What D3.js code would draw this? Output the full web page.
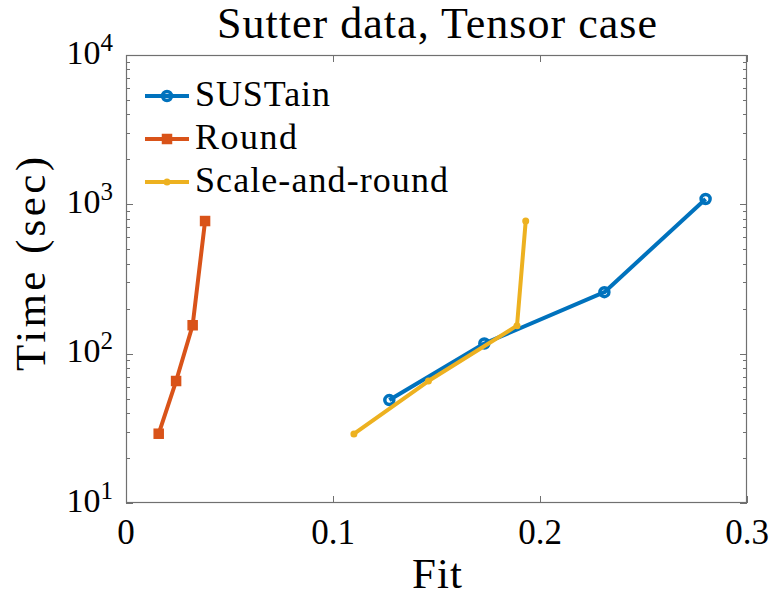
<!DOCTYPE html>
<html>
<head>
<meta charset="utf-8">
<script src="https://cdn.jsdelivr.net/npm/d3@7"></script>
<style>
  html, body { margin: 0; padding: 0; background: #fff; }
  svg { display: block; }
</style>
</head>
<body>
<svg id="chart" width="773" height="596"></svg>
<script>
// ---- data ----
const seriesNames = ["SUSTain", "Round", "Scale-and-round"];
const sustainFit = [0.1272, 0.1731, 0.2311, 0.2800];
const sustainTime = [48.9, 117, 258, 1086];
const roundFit = [0.0158, 0.0242, 0.0322, 0.0382];
const roundTime = [29.1, 65.6, 155, 773];
const scaleRoundFit = [0.1101, 0.1461, 0.1889, 0.1931];
const scaleRoundTime = [29.0, 65.6, 154, 773];
const xTicks = [0, 0.1, 0.2, 0.3];
const yTicks = [10, 100, 1000, 10000];
const colors = ["#0072BD", "#D95319", "#EDB120"];

const FONT = "'Liberation Serif', 'Times New Roman', serif";
const svg = d3.select("#chart");
const L = 126, R = 747, T = 55, B = 503;
const x = d3.scaleLinear().domain([0, 0.3]).range([L, R]);
const y = d3.scaleLog().domain([10, 10000]).range([B, T]);
const axisColor = "#707070";

// minor ticks
const minor = [];
for (let d = 10; d < 10000; d *= 10) for (let k = 2; k <= 9; k++) minor.push(d * k);

const g = svg.append("g");
function hTicks(data, x1, x2) {
  g.append("g").selectAll("line").data(data).join("line")
    .attr("x1", x1).attr("x2", x2)
    .attr("y1", d => Math.round(y(d)) + 0.5).attr("y2", d => Math.round(y(d)) + 0.5)
    .attr("stroke", axisColor);
}
hTicks(minor, L, L + 4);
hTicks(minor, R, R - 4);
hTicks(yTicks, L, L + 7);
hTicks(yTicks, R, R - 7);
function vTicks(y1, y2) {
  g.append("g").selectAll("line").data(xTicks).join("line")
    .attr("x1", d => Math.round(x(d)) + 0.5).attr("x2", d => Math.round(x(d)) + 0.5)
    .attr("y1", y1).attr("y2", y2).attr("stroke", axisColor);
}
vTicks(B, B - 7);
vTicks(T, T + 7);
// box
g.append("rect").attr("x", L + 0.5).attr("y", T + 0.5).attr("width", R - L - 1).attr("height", B - T - 1)
  .attr("fill", "none").attr("stroke", axisColor).attr("stroke-width", 1.2);

// tick labels
svg.append("g").selectAll("text").data(xTicks).join("text")
  .attr("font-family", FONT).attr("fill", "#000")
  .attr("x", d => x(d)).attr("y", 544).attr("text-anchor", "middle")
  .attr("font-size", 35).text(d => d === 0 ? "0" : d3.format(".1f")(d));
const yl = svg.append("g").selectAll("text").data(yTicks).join("text")
  .attr("font-family", FONT).attr("fill", "#000")
  .attr("x", 113).attr("y", d => y(d) + 8.5).attr("text-anchor", "end");
yl.append("tspan").attr("font-size", 34).text("10");
yl.append("tspan").attr("dy", -13).attr("font-size", 25).text(d => Math.round(Math.log10(d)));

// title & axis labels
svg.append("text").attr("font-family", FONT).attr("x", 437).attr("y", 38).attr("text-anchor", "middle")
  .attr("font-size", 44).attr("textLength", 440).attr("lengthAdjust", "spacing")
  .text("Sutter data, Tensor case");
svg.append("text").attr("font-family", FONT).attr("x", 437).attr("y", 588).attr("text-anchor", "middle")
  .attr("font-size", 43).attr("textLength", 50).attr("lengthAdjust", "spacing").text("Fit");
svg.append("text").attr("font-family", FONT).attr("transform", `translate(45,264) rotate(-90)`)
  .attr("text-anchor", "middle").attr("font-size", 43)
  .attr("textLength", 214).attr("lengthAdjust", "spacing").text("Time (sec)");

// data series
const series = [
  { name: seriesNames[0], fit: sustainFit, time: sustainTime, color: colors[0], marker: "circle" },
  { name: seriesNames[1], fit: roundFit, time: roundTime, color: colors[1], marker: "square" },
  { name: seriesNames[2], fit: scaleRoundFit, time: scaleRoundTime, color: colors[2], marker: "star" }
];
const line = d3.line().x(d => x(d[0])).y(d => y(d[1]));

function drawMarker(sel, s, px, py) {
  if (s.marker === "circle") {
    sel.append("circle").attr("cx", px).attr("cy", py).attr("r", 4.5)
      .attr("fill", "none").attr("stroke", s.color).attr("stroke-width", 3.5);
  } else if (s.marker === "square") {
    sel.append("rect").attr("x", px - 4.5).attr("y", py - 4.5).attr("width", 9).attr("height", 9)
      .attr("fill", s.color).attr("stroke", s.color).attr("stroke-width", 1.5);
  } else {
    sel.append("circle").attr("cx", px).attr("cy", py).attr("r", 3.5).attr("fill", s.color);
  }
}

series.forEach(s => {
  const pts = s.fit.map((f, i) => [f, s.time[i]]);
  svg.append("path").datum(pts).attr("d", line).attr("fill", "none")
    .attr("stroke", s.color).attr("stroke-width", 4).attr("stroke-linejoin", "round");
  const mg = svg.append("g");
  pts.forEach(p => drawMarker(mg, s, x(p[0]), y(p[1])));
});

// legend
const legY = [96, 139, 182];
const legW = [135, 102, 253];
series.forEach((s, i) => {
  const lg = svg.append("g");
  lg.append("line").attr("x1", 145).attr("x2", 189).attr("y1", legY[i]).attr("y2", legY[i])
    .attr("stroke", s.color).attr("stroke-width", 4);
  drawMarker(lg, s, 167, legY[i]);
  lg.append("text").attr("font-family", FONT).attr("fill", "#000")
    .attr("x", 195).attr("y", legY[i] + 10).attr("font-size", 36)
    .attr("textLength", legW[i]).attr("lengthAdjust", "spacing").text(s.name);
});
</script>
</body>
</html>
